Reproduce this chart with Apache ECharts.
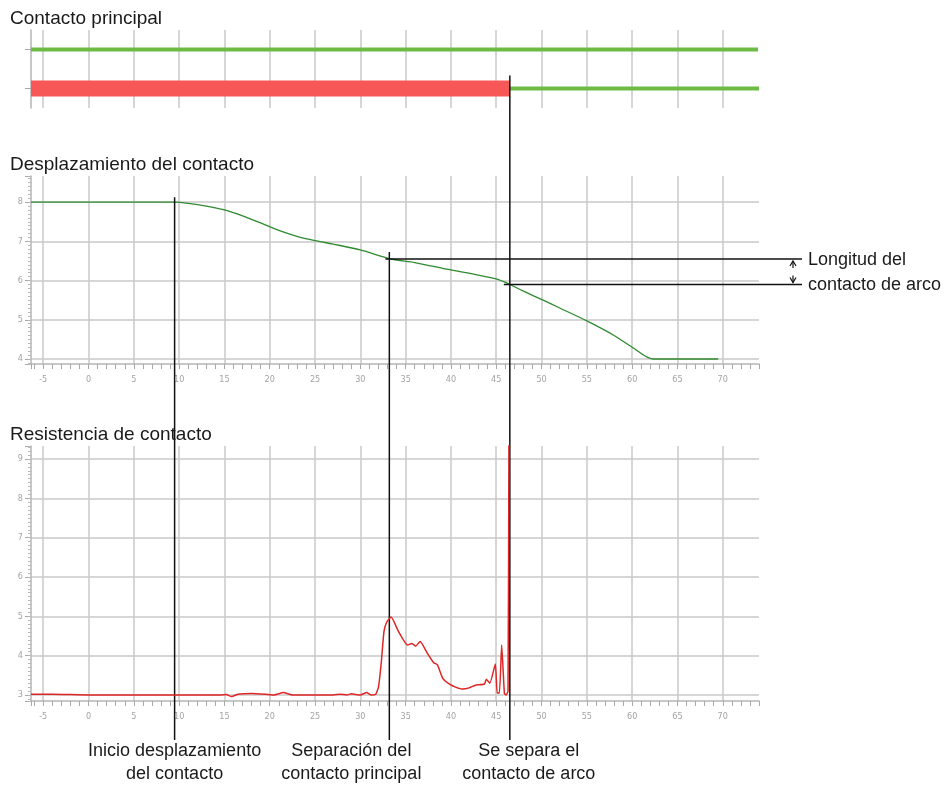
<!DOCTYPE html>
<html><head><meta charset="utf-8">
<script src="https://cdn.jsdelivr.net/npm/echarts@6/dist/echarts.min.js"></script>
<style>html,body{margin:0;padding:0;background:#fff}#c{width:951px;height:785px}</style>
</head><body><div id="c"></div>
<script>
// ---------- data ----------
const panelTitles = ['Contacto principal', 'Desplazamiento del contacto', 'Resistencia de contacto'];
const contactRows = ['Contacto de arco', 'Contacto principal'];
const timeMin = -6.35, timeMax = 74;
const upperRowSpan = [-6.35, 73.9];
const lowerRowRedSpan = [-6.35, 46.5];
const lowerRowGreenSpan = [46.5, 74];

const dispTime = [-6.35, 9.5, 11, 13, 15, 17, 19, 21, 23, 25, 27, 30, 33.4, 36, 40, 43, 45, 46.5, 48, 50, 52, 55, 58, 60, 62.3, 65, 69.5];
const dispValue = [8.0, 8.0, 7.97, 7.9, 7.8, 7.65, 7.47, 7.28, 7.13, 7.02, 6.93, 6.78, 6.55, 6.46, 6.27, 6.14, 6.04, 5.9, 5.73, 5.52, 5.3, 4.97, 4.6, 4.3, 4.0, 4.0, 4.0];

const resTime = [-6.35, -4, 0, 10, 14.5, 15.2, 15.8, 16.5, 18, 19.5, 20.5, 21.5, 22.5, 25, 27, 27.8, 28.5, 29, 30, 30.7, 31.2, 31.7, 32.0, 32.3, 32.6, 32.9, 33.4, 34.2, 35.2, 35.7, 36.1, 36.6, 37.4, 38.1, 38.5, 39.1, 39.8, 40.5, 41.3, 42.0, 42.7, 43.7, 43.9, 44.3, 44.9, 45.1, 45.35, 45.6, 45.9, 46.1, 46.3, 46.4];
const resValue = [3.02, 3.02, 3.0, 3.0, 3.0, 3.01, 2.96, 3.02, 3.04, 3.02, 3.0, 3.06, 3.0, 3.0, 3.0, 3.02, 3.0, 3.03, 3.0, 3.06, 3.0, 3.02, 3.2, 3.8, 4.6, 4.85, 4.98, 4.62, 4.27, 4.31, 4.24, 4.36, 4.06, 3.82, 3.77, 3.42, 3.28, 3.2, 3.15, 3.18, 3.25, 3.28, 3.4, 3.3, 3.79, 3.05, 3.05, 4.27, 3.04, 3.0, 3.1, 9.6];

const dispRange = [3.872, 8.667];
const resRange = [2.847, 9.33];

const eventTimes = [9.5, 33.2, 46.5];
const eventLevels = [8.0, 6.55, 5.9];
const eventLabels = [['Inicio desplazamiento', 'del contacto'], ['Separación del', 'contacto principal'], ['Se separa el', 'contacto de arco']];
const arcLengthLabel = ['Longitud del', 'contacto de arco'];

// ---------- styles ----------
const FONT = '"Liberation Sans", Arial, sans-serif';
const TICKFONT = '"Liberation Sans Narrow", "DejaVu Sans Condensed", "Liberation Sans", sans-serif';
const gridColor = '#c9c9c9';
const axisColor = '#b5b5b5';
const labelColor = '#a3a3a3';
const isMult = (v, s) => Math.abs(v / s - Math.round(v / s)) < 1e-6;

function majorX(grid, show) {
  return {
    type: 'value', gridIndex: grid, min: timeMin, max: timeMax, position: 'bottom',
    splitNumber: 16, minInterval: 5, maxInterval: 5,
    axisLine: { show: show, onZero: false, lineStyle: { color: axisColor, width: 1.5 } },
    axisTick: { show: false },
    axisLabel: { show: show, formatter: v => isMult(v, 5) ? String(Math.round(v)) : '', color: labelColor, fontSize: 9, fontFamily: TICKFONT, margin: 11 },
    splitLine: { show: true, showMinLine: false, showMaxLine: false, lineStyle: { color: gridColor, width: 1.5 } }
  };
}
function minorX(grid) {
  return {
    type: 'value', gridIndex: grid, min: timeMin, max: timeMax, position: 'bottom',
    splitNumber: 80, minInterval: 1, maxInterval: 1,
    axisLine: { show: false, onZero: false },
    axisTick: { show: true, length: 5, lineStyle: { color: '#a8a8a8', width: 1 } },
    axisLabel: { show: false }, splitLine: { show: false }
  };
}
function majorY(grid, r) {
  return {
    type: 'value', gridIndex: grid, min: r[0], max: r[1], position: 'left',
    splitNumber: 6, minInterval: 1, maxInterval: 1,
    axisLine: { show: true, onZero: false, lineStyle: { color: axisColor, width: 1.5 } },
    axisTick: { show: true, length: 6, lineStyle: { color: '#a8a8a8', width: 1 } },
    axisLabel: { formatter: v => isMult(v, 1) ? String(Math.round(v)) : '', color: labelColor, fontSize: 9, fontFamily: TICKFONT, margin: 8 },
    splitLine: { show: true, showMinLine: false, showMaxLine: false, lineStyle: { color: gridColor, width: 1.5 } }
  };
}
function minorY(grid, r) {
  return {
    type: 'value', gridIndex: grid, min: r[0], max: r[1], position: 'left',
    splitNumber: 60, minInterval: 0.1, maxInterval: 0.1,
    axisLine: { show: false, onZero: false },
    axisTick: { show: true, length: 3, lineStyle: { color: '#b8b8b8', width: 1 } },
    axisLabel: { show: false }, splitLine: { show: false }
  };
}

const chart = echarts.init(document.getElementById('c'), null, { renderer: 'canvas' });
const zip = (a, b) => a.map((v, i) => [v, b[i]]);

chart.setOption({
  animation: false,
  backgroundColor: '#fff',
  title: panelTitles.map((t, i) => ({
    text: t, left: 10, top: [9, 155, 425][i], padding: 0,
    textStyle: { fontSize: 19, fontWeight: 'normal', color: '#1a1a1a', fontFamily: FONT }
  })),
  grid: [
    { left: 31, right: 192, top: 30, height: 78 },
    { left: 31, right: 192, top: 176, height: 188 },
    { left: 31, right: 192, top: 446, height: 255 }
  ],
  xAxis: [
    {
      type: 'value', gridIndex: 0, min: timeMin, max: timeMax,
      splitNumber: 16, minInterval: 5, maxInterval: 5,
      axisLine: { show: false, onZero: false }, axisTick: { show: false }, axisLabel: { show: false },
      splitLine: { show: true, showMinLine: false, showMaxLine: false, lineStyle: { color: gridColor, width: 1.5 } }
    },
    majorX(1, true), minorX(1),
    majorX(2, true), minorX(2)
  ],
  yAxis: [
    {
      type: 'category', gridIndex: 0, data: contactRows, position: 'left', offset: 0,
      axisLine: { show: true, onZero: false, lineStyle: { color: axisColor, width: 1.5 } },
      axisTick: { show: true, alignWithLabel: true, length: 6, lineStyle: { color: '#a8a8a8' } },
      axisLabel: { show: false }, splitLine: { show: false }
    },
    majorY(1, dispRange), minorY(1, dispRange),
    majorY(2, resRange), minorY(2, resRange)
  ],
  series: [
    { type: 'line', xAxisIndex: 0, yAxisIndex: 0, symbol: 'none', silent: true,
      data: [[upperRowSpan[0], 1], [upperRowSpan[1], 1]], lineStyle: { color: '#6dbb45', width: 4, cap: 'butt' } },
    { type: 'line', xAxisIndex: 0, yAxisIndex: 0, symbol: 'none', silent: true,
      data: [[lowerRowRedSpan[0], 0], [lowerRowRedSpan[1], 0]], lineStyle: { color: '#f85757', width: 16, cap: 'butt' } },
    { type: 'line', xAxisIndex: 0, yAxisIndex: 0, symbol: 'none', silent: true,
      data: [[lowerRowGreenSpan[0], 0], [lowerRowGreenSpan[1], 0]], lineStyle: { color: '#6dbb45', width: 4, cap: 'butt' } },
    { type: 'line', xAxisIndex: 1, yAxisIndex: 1, symbol: 'none', smooth: 0.3, silent: true,
      data: zip(dispTime, dispValue), lineStyle: { color: '#2f8a2f', width: 1.3 } },
    { type: 'line', xAxisIndex: 3, yAxisIndex: 3, symbol: 'none', smooth: 0.15, clip: true, silent: true, z: 5,
      data: zip(resTime, resValue), lineStyle: { color: '#e02525', width: 1.5 } }
  ]
});

// ---------- annotations (positions from the chart's own scales) ----------
const toMid = p => chart.convertToPixel({ xAxisIndex: 1, yAxisIndex: 1 }, p);
const toTop = p => chart.convertToPixel({ xAxisIndex: 0, yAxisIndex: 0 }, p);
const lineBottom = 740;
const black = { stroke: '#111', lineWidth: 1.5 };
const g = [];
const p0 = toMid([eventTimes[0], eventLevels[0]]);
const p1 = toMid([eventTimes[1], eventLevels[1]]);
const p2 = toMid([eventTimes[2], eventLevels[2]]);
const pTop = toTop([eventTimes[2], 0]);
const tops = [p0[1] - 5, p1[1] - 7, pTop[1] - 13];
const xs = [p0[0], p1[0], p2[0]];
xs.forEach((x, i) => {
  g.push({ type: 'line', z: 4, shape: { x1: x, y1: tops[i], x2: x, y2: lineBottom }, style: black });
});
const rightEnd = 802, arrowX = 793;
g.push({ type: 'line', z: 4, shape: { x1: p1[0] - 4, y1: p1[1], x2: rightEnd, y2: p1[1] }, style: black });
g.push({ type: 'line', z: 4, shape: { x1: p2[0] - 6, y1: p2[1], x2: rightEnd, y2: p2[1] }, style: black });
// arrows
g.push({ type: 'line', shape: { x1: arrowX, y1: p1[1] + 2, x2: arrowX, y2: p1[1] + 9 }, style: { stroke: '#111', lineWidth: 1.2 } });
g.push({ type: 'polyline', shape: { points: [[arrowX - 3, p1[1] + 7], [arrowX, p1[1] + 2], [arrowX + 3, p1[1] + 7]] }, style: { stroke: '#111', lineWidth: 1.2, fill: null } });
g.push({ type: 'line', shape: { x1: arrowX, y1: p2[1] - 2, x2: arrowX, y2: p2[1] - 9 }, style: { stroke: '#111', lineWidth: 1.2 } });
g.push({ type: 'polyline', shape: { points: [[arrowX - 3, p2[1] - 7], [arrowX, p2[1] - 2], [arrowX + 3, p2[1] - 7]] }, style: { stroke: '#111', lineWidth: 1.2, fill: null } });
g.push({ type: 'text', style: { text: arcLengthLabel[0], x: 808, y: p1[1] + 1, textVerticalAlign: 'middle', fontSize: 18, fontFamily: FONT, fill: '#1a1a1a' } });
g.push({ type: 'text', style: { text: arcLengthLabel[1], x: 808, y: p2[1] + 1, textVerticalAlign: 'middle', fontSize: 18, fontFamily: FONT, fill: '#1a1a1a' } });
// bottom labels
const labelCenters = [xs[0], xs[1] - 38, xs[2] + 19];
eventLabels.forEach((lines, i) => {
  lines.forEach((t, j) => {
    g.push({ type: 'text', style: { text: t, x: labelCenters[i], y: 751 + j * 23, textAlign: 'center', textVerticalAlign: 'middle', fontSize: 18, fontFamily: FONT, fill: '#1a1a1a' } });
  });
});
chart.setOption({ graphic: g });
</script></body></html>
